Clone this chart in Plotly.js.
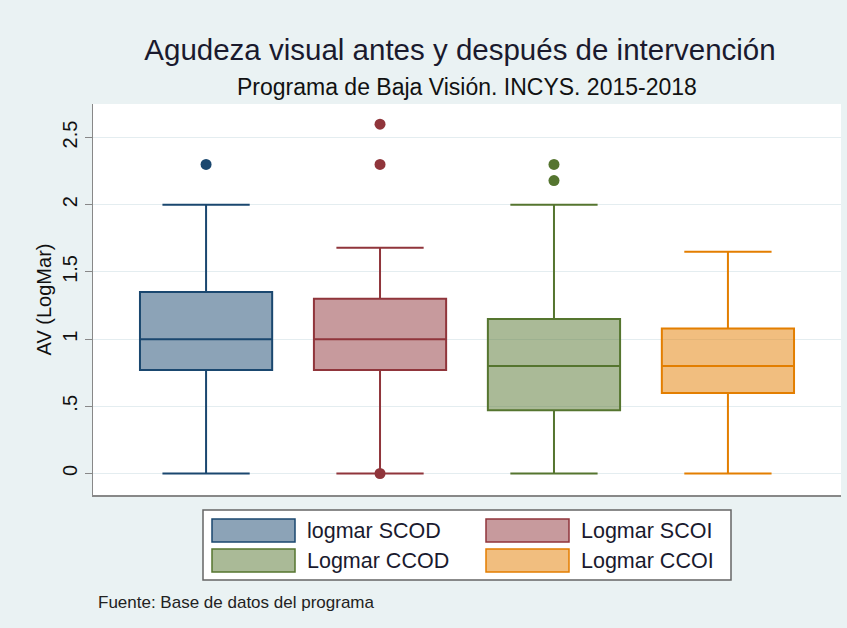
<!DOCTYPE html>
<html><head><meta charset="utf-8">
<script src="https://cdn.plot.ly/plotly-3.0.1.min.js"></script>
<style>body{margin:0;background:#eaf2f3;} #chart{width:847px;height:628px;}</style>
</head><body><div id="chart"></div>
<script>
// ---- data ----
const seriesNames = ["logmar SCOD", "Logmar SCOI", "Logmar CCOD", "Logmar CCOI"];
const positions = [1, 2, 3, 4];
const q1Values = [0.77, 0.77, 0.47, 0.60];
const medianValues = [1.0, 1.0, 0.8, 0.8];
const q3Values = [1.35, 1.30, 1.15, 1.08];
const lowerWhiskers = [0, 0, 0, 0];
const upperWhiskers = [2.0, 1.68, 2.0, 1.65];
const outliersSCOD = [2.3];
const outliersSCOI = [2.6, 2.3, 0];
const outliersCCOD = [2.3, 2.18];
const outliersCCOI = [];
const yTickVals = [0, 0.5, 1, 1.5, 2, 2.5];
const yTickText = ["0", ".5", "1", "1.5", "2", "2.5"];

// ---- styles ----
const lineColors = ["#1a476f", "#90353b", "#55752f", "#e37e00"];
const fillColors = ["rgba(26,71,111,0.5)", "rgba(144,53,59,0.5)", "rgba(85,117,47,0.5)", "rgba(227,126,0,0.5)"];
const outlierSets = [outliersSCOD, outliersSCOI, outliersCCOD, outliersCCOI];

const W = 847, H = 628;
const M = {l: 93, r: 6, t: 104, b: 133};
const pw = W - M.l - M.r, ph = H - M.t - M.b;
const px = x => (x - M.l) / pw;
const py = y => (H - M.b - y) / ph;

const traces = [];
seriesNames.forEach((name, i) => {
  traces.push({
    type: 'box', name: name, x: [positions[i]],
    q1: [q1Values[i]], median: [medianValues[i]], q3: [q3Values[i]],
    lowerfence: [lowerWhiskers[i]], upperfence: [upperWhiskers[i]],
    width: 0.76, whiskerwidth: 0.66, boxpoints: false,
    line: {color: lineColors[i], width: 2}, fillcolor: fillColors[i],
    showlegend: false, hoverinfo: 'skip'
  });
  if (outlierSets[i].length) {
    traces.push({
      type: 'scatter', mode: 'markers', x: outlierSets[i].map(() => positions[i]), y: outlierSets[i],
      marker: {color: lineColors[i], size: 11}, showlegend: false, hoverinfo: 'skip'
    });
  }
});

const shapes = [];
const annotations = [];
// legend frame
shapes.push({type: 'rect', xref: 'paper', yref: 'paper', x0: px(203), x1: px(731), y0: py(510), y1: py(580),
  line: {color: '#666', width: 1.5}, fillcolor: '#ffffff', layer: 'above'});
const legCols = [212, 486], legRows = [519, 549];
seriesNames.forEach((name, i) => {
  const cx = legCols[i % 2], cy = legRows[Math.floor(i / 2)];
  shapes.push({type: 'rect', xref: 'paper', yref: 'paper', x0: px(cx), x1: px(cx + 83), y0: py(cy), y1: py(cy + 23),
    line: {color: lineColors[i], width: 1.5}, fillcolor: fillColors[i], layer: 'above'});
  annotations.push({xref: 'paper', yref: 'paper', x: px(cx + 93), y: py(cy + 12), xanchor: 'left', yanchor: 'middle',
    text: name, showarrow: false, font: {size: 21.5, color: '#1a1a2e'}});
});
annotations.push({xref: 'paper', yref: 'paper', x: 0.5, y: py(87), xanchor: 'center', yanchor: 'middle',
  text: 'Programa de Baja Visión. INCYS. 2015-2018', showarrow: false, font: {size: 23, color: '#111'}});
annotations.push({xref: 'paper', yref: 'paper', x: px(96), y: py(602), xanchor: 'left', yanchor: 'middle',
  text: 'Fuente: Base de datos del programa', showarrow: false, font: {size: 17, color: '#222'}});

const layout = {
  width: W, height: H,
  margin: M,
  paper_bgcolor: '#eaf2f3', plot_bgcolor: '#ffffff',
  font: {family: 'Liberation Sans, Arial, sans-serif', color: '#111'},
  title: {text: 'Agudeza visual antes y después de intervención', xref: 'paper', x: px(460), xanchor: 'center',
    yref: 'container', y: 1 - 50 / H, yanchor: 'middle', font: {size: 29.5, color: '#1a1a2e'}},
  xaxis: {range: [0.35, 4.65], showticklabels: false, ticks: '', showgrid: false, zeroline: false,
    showline: true, linecolor: '#888', linewidth: 1.5, fixedrange: true},
  yaxis: {range: [-0.16, 2.75], tickvals: yTickVals, ticktext: yTickText, tickangle: -90,
    ticks: 'outside', ticklen: 7, tickcolor: '#888', tickwidth: 1, showline: true, linecolor: '#888', linewidth: 1.5,
    showgrid: true, gridcolor: '#e4edf0', gridwidth: 1, zeroline: false, tickfont: {size: 20, color: '#111'},
    title: {text: 'AV (LogMar)', font: {size: 20, color: '#111'}, standoff: 1}},
  shapes: shapes, annotations: annotations
};

Plotly.newPlot('chart', traces, layout, {staticPlot: true});
</script>
</body></html>
